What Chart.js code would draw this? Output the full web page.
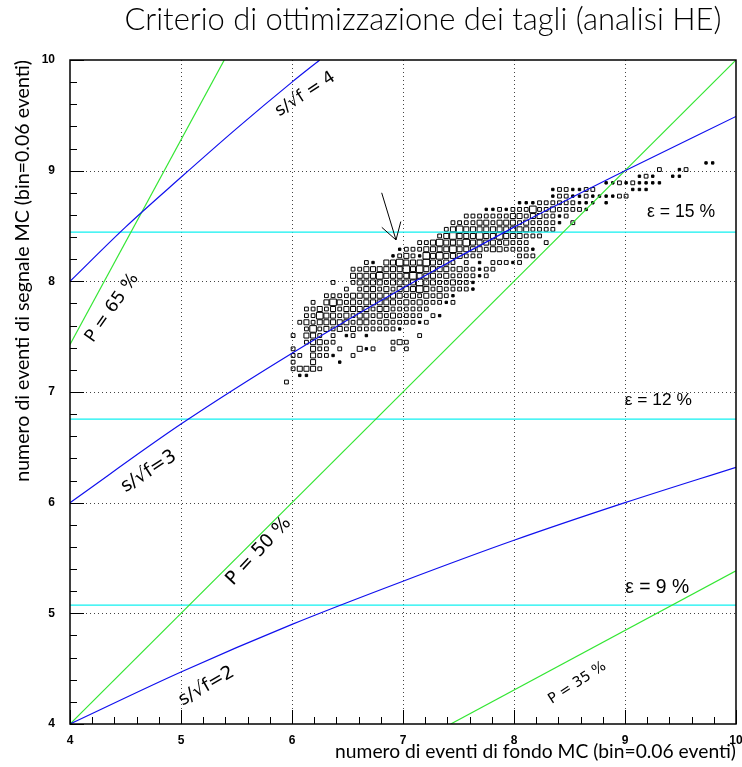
<!DOCTYPE html>
<html>
<head>
<meta charset="utf-8">
<script src="https://cdn.jsdelivr.net/npm/chart.js@4.4.1/dist/chart.umd.min.js"></script>
<style>
  html, body { margin: 0; padding: 0; background: #fff; }
</style>
</head>
<body>
<canvas id="plot" width="742" height="767"></canvas>
<script>
const xRange = [4, 10];
const yRange = [4, 10];
const binWidth = 0.06;
const majorTicks = [4, 5, 6, 7, 8, 9, 10];
const minorStep = 0.2;

// 2D histogram rows: [y bin, first x bin, box size per x bin (0 empty ... 4 full)]
const histRows = [
  [51, 32, "2"],
  [52, 33, "011"],
  [53, 33, "23332"],
  [54, 33, "20030001"],
  [55, 33, "2203221002"],
  [56, 33, "200322020031200202"],
  [57, 35, "2332200000000232"],
  [58, 33, "20332020120100000002"],
  [59, 35, "242323232222221"],
  [60, 34, "23233333233223222212"],
  [61, 35, "224332323323232222021"],
  [62, 35, "2232323333233222222"],
  [63, 36, "2034323233333232322212"],
  [64, 38, "22223333333323232321"],
  [65, 41, "20233232333432322221"],
  [66, 39, "2002333323333433223221"],
  [67, 42, "333343333433323222212"],
  [68, 42, "2233333343433332322122"],
  [69, 44, "210334333432320201022212"],
  [70, 48, "1232143433322200000222"],
  [71, 49, "122233334333323322221"],
  [72, 52, "22343334333323222002"],
  [73, 55, "2343334334333222"],
  [74, 56, "23433333333332222"],
  [75, 57, "2222332333232222102"],
  [76, 59, "2222222332332212"],
  [77, 62, "1121222422322221"],
  [78, 67, "11122222211101"],
  [79, 72, "122112111122"],
  [80, 72, "122112200000111"],
  [81, 80, "112121111"],
  [82, 85, "1210011"],
  [83, 88, "20012"],
  [84, 95, "11"]
];
const boxSides = [0, 2.4, 3.8, 5.0, 6.6];

// curves
const curveS4 = [{x: 4, y: 8.0}, {x: 4.5, y: 8.49}, {x: 5, y: 8.94}, {x: 5.5, y: 9.38}, {x: 6, y: 9.8}, {x: 6.25, y: 10}];
const curveS3 = [{x: 4, y: 6.0}, {x: 5, y: 6.71}, {x: 6, y: 7.35}, {x: 7, y: 7.94}, {x: 8, y: 8.49}, {x: 9, y: 9.0}, {x: 10, y: 9.49}];
const curveS2 = [{x: 4, y: 4.0}, {x: 5, y: 4.47}, {x: 6, y: 4.9}, {x: 7, y: 5.29}, {x: 8, y: 5.66}, {x: 9, y: 6.0}, {x: 10, y: 6.32}];
const lineP65 = [{x: 4, y: 7.43}, {x: 5.39, y: 10}];
const lineP50 = [{x: 4, y: 4}, {x: 10, y: 10}];
const lineP35 = [{x: 7.43, y: 4}, {x: 10, y: 5.385}];
const effLevels = [8.445, 6.755, 5.075];
const effLabels = ["ε = 15 %", "ε = 12 %", "ε = 9 %"];
const arrowFrom = {x: 6.808, y: 8.80};
const arrowTo = {x: 6.937, y: 8.374};

const titleText = "Criterio di ottimizzazione dei tagli (analisi HE)";
const xTitle = "numero di eventi di fondo MC (bin=0.06 eventi)";
const yTitle = "numero di eventi di segnale MC (bin=0.06 eventi)";

// rotated labels on the curves: text, centre (data units), angle (deg), length (px)
const curveLabels = [
  {text: "s/√f = 4", x: 6.12, y: 9.69, angle: -33, len: 68},
  {text: "P = 65 %", x: 4.38, y: 7.76, angle: -55, len: 80},
  {text: "s/√f=3", x: 4.71, y: 6.28, angle: -33, len: 62},
  {text: "P = 50 %", x: 5.70, y: 5.56, angle: -47, len: 86},
  {text: "s/√f=2", x: 5.23, y: 4.34, angle: -30, len: 61},
  {text: "P = 35 %", x: 8.57, y: 4.37, angle: -33, len: 66}
];
const effLabelPos = [{x: 9.505, y: 8.627, len: 68}, {x: 9.30, y: 6.93, len: 67}, {x: 9.29, y: 5.23, len: 64}];

const boxPoints = [];
histRows.forEach(([j, k0, cells]) => {
  for (let i = 0; i < cells.length; i++) {
    const s = Number(cells[i]);
    if (!s) continue;
    boxPoints.push({
      x: xRange[0] + binWidth * (k0 + i + 0.5),
      y: yRange[0] + binWidth * (j + 0.5),
      s: s
    });
  }
});

function fitFont(ctx, text, family, weight, width) {
  ctx.font = `${weight} 100px ${family}`;
  const w = ctx.measureText(text).width;
  return `${weight} ${(100 * width / w).toFixed(2)}px ${family}`;
}

function lineSet(data, color, curved) {
  return {
    type: "line",
    data: data,
    borderColor: color,
    borderWidth: 1.2,
    pointRadius: 0,
    fill: false,
    tension: curved ? 0.4 : 0,
    cubicInterpolationMode: curved ? "monotone" : "default",
    order: 0
  };
}

const BLUE = "#1010ee";
const GREEN = "#33e633";
const CYAN = "#10f0f0";

const framePlugin = {
  id: "rootFrame",
  beforeDatasetsDraw(chart) {
    const {ctx, chartArea: a, scales: {x, y}} = chart;
    ctx.save();
    ctx.strokeStyle = "#444";
    ctx.lineWidth = 1;
    ctx.setLineDash([1, 3]);
    majorTicks.slice(1, -1).forEach((v) => {
      const px = Math.round(x.getPixelForValue(v)) + 0.5;
      const py = Math.round(y.getPixelForValue(v)) + 0.5;
      ctx.beginPath(); ctx.moveTo(px, a.top); ctx.lineTo(px, a.bottom); ctx.stroke();
      ctx.beginPath(); ctx.moveTo(a.left, py); ctx.lineTo(a.right, py); ctx.stroke();
    });
    ctx.restore();
  },
  afterDatasetsDraw(chart) {
    const {ctx, chartArea: a, scales: {x, y}} = chart;
    ctx.save();
    // frame
    ctx.strokeStyle = "#000";
    ctx.lineWidth = 1.5;
    ctx.strokeRect(a.left, a.top, a.right - a.left, a.bottom - a.top);
    // inward ticks
    ctx.lineWidth = 1;
    for (let v = xRange[0]; v <= xRange[1] + 1e-9; v += minorStep) {
      const major = Math.abs(v - Math.round(v)) < 1e-6;
      const len = major ? 14 : 7;
      const px = Math.round(x.getPixelForValue(v)) + 0.5;
      ctx.beginPath(); ctx.moveTo(px, a.bottom); ctx.lineTo(px, a.bottom - len); ctx.stroke();
    }
    for (let v = yRange[0]; v <= yRange[1] + 1e-9; v += minorStep) {
      const major = Math.abs(v - Math.round(v)) < 1e-6;
      const len = major ? 14 : 7;
      const py = Math.round(y.getPixelForValue(v)) + 0.5;
      ctx.beginPath(); ctx.moveTo(a.left, py); ctx.lineTo(a.left + len, py); ctx.stroke();
    }
    // tick labels
    ctx.fillStyle = "#000";
    ctx.font = "bold 12px 'Liberation Sans'";
    ctx.textBaseline = "middle";
    ctx.textAlign = "center";
    majorTicks.forEach((v) => ctx.fillText(String(v), x.getPixelForValue(v), a.bottom + 17));
    ctx.textAlign = "right";
    majorTicks.forEach((v) => ctx.fillText(String(v), a.left - 15, y.getPixelForValue(v)));

    // arrow
    const tx = x.getPixelForValue(arrowTo.x), ty = y.getPixelForValue(arrowTo.y);
    const fx = x.getPixelForValue(arrowFrom.x), fy = y.getPixelForValue(arrowFrom.y);
    const ang = Math.atan2(ty - fy, tx - fx);
    ctx.beginPath();
    ctx.moveTo(fx, fy); ctx.lineTo(tx, ty);
    [0.55, -0.55].forEach((d) => {
      ctx.moveTo(tx, ty);
      ctx.lineTo(tx - 19 * Math.cos(ang + d), ty - 19 * Math.sin(ang + d));
    });
    ctx.stroke();

    // texts
    ctx.textAlign = "center";
    ctx.textBaseline = "middle";
    curveLabels.forEach((l) => {
      ctx.save();
      ctx.translate(x.getPixelForValue(l.x), y.getPixelForValue(l.y));
      ctx.rotate(l.angle * Math.PI / 180);
      ctx.font = fitFont(ctx, l.text, "'DejaVu Sans'", "normal", l.len);
      ctx.fillText(l.text, 0, 0);
      ctx.restore();
    });
    effLabels.forEach((t, i) => {
      const p = effLabelPos[i];
      ctx.font = fitFont(ctx, t, "'Liberation Sans'", "normal", p.len);
      ctx.fillText(t, x.getPixelForValue(p.x), y.getPixelForValue(p.y));
    });

    ctx.textBaseline = "alphabetic";
    ctx.font = fitFont(ctx, titleText, "Lato", "300", 597);
    ctx.fillText(titleText, 423, 30);

    ctx.textAlign = "right";
    ctx.font = fitFont(ctx, xTitle, "Lato", "normal", 401);
    ctx.fillText(xTitle, a.right, 758);

    ctx.save();
    ctx.translate(29, a.top);
    ctx.rotate(-Math.PI / 2);
    ctx.font = fitFont(ctx, yTitle, "Lato", "normal", 422);
    ctx.fillText(yTitle, 0, 0);
    ctx.restore();

    ctx.restore();
  }
};

new Chart(document.getElementById("plot"), {
  type: "scatter",
  data: {
    datasets: [
      lineSet(curveS4, BLUE, true),
      lineSet(curveS3, BLUE, true),
      lineSet(curveS2, BLUE, true),
      lineSet(lineP65, GREEN, false),
      lineSet(lineP50, GREEN, false),
      lineSet(lineP35, GREEN, false),
      ...effLevels.map((v) => lineSet([{x: xRange[0], y: v}, {x: xRange[1], y: v}], CYAN, false)),
      {
        data: boxPoints,
        pointStyle: "rect",
        pointRadius: (c) => boxSides[c.raw ? c.raw.s : 0] / Math.SQRT2,
        borderColor: "#000",
        borderWidth: 1,
        backgroundColor: (c) => (c.raw && c.raw.s === 1 ? "#000" : "rgba(0,0,0,0)"),
        order: 1
      }
    ]
  },
  options: {
    responsive: false,
    animation: false,
    devicePixelRatio: 1,
    layout: {padding: {top: 60, right: 6, left: 0, bottom: 0}},
    plugins: {legend: {display: false}, tooltip: {enabled: false}},
    scales: {
      x: {
        type: "linear",
        min: xRange[0],
        max: xRange[1],
        afterFit: (s) => { s.height = 43; },
        grid: {display: false},
        border: {display: false},
        ticks: {display: false}
      },
      y: {
        type: "linear",
        min: yRange[0],
        max: yRange[1],
        afterFit: (s) => { s.width = 70; },
        grid: {display: false},
        border: {display: false},
        ticks: {display: false}
      }
    }
  },
  plugins: [framePlugin]
});
</script>
</body>
</html>
